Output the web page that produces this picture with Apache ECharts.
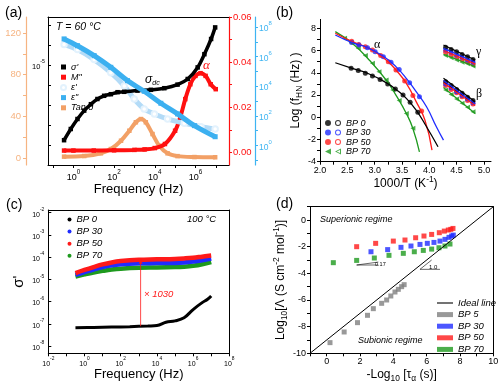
<!DOCTYPE html>
<html><head><meta charset="utf-8">
<script src="https://cdn.jsdelivr.net/npm/echarts@6/dist/echarts.min.js"></script>
<style>html,body{margin:0;padding:0;background:#fff}#c{width:500px;height:383px}</style>
</head><body><div id="c"></div>
<script>
// ================= DATA =================
// Panel (a): x = log10(frequency / Hz)
const aSigmaF = [-0.46,-0.13,0.2,0.53,0.86,1.18,1.51,1.84,2.17,2.5,3.15,3.81,4.47,5.12,5.62,6.11,6.44,6.77,6.97];
const aSigmaV = [-6.88,-6.6,-6.35,-6.14,-5.98,-5.85,-5.77,-5.73,-5.68,-5.67,-5.64,-5.62,-5.58,-5.49,-5.35,-5.06,-4.73,-4.35,-4.06]; // log10 sigma'
const aMF = [-0.46,0,1,2,3,3.5,4,4.5,5,5.25,5.5,5.75,6,6.25,6.5,6.75,7];
const aMV = [0.0008,0.0008,0.0008,0.0009,0.0011,0.0013,0.0019,0.0037,0.0096,0.0155,0.0236,0.0302,0.0339,0.0351,0.0339,0.0302,0.028];
const aEps1F = [-0.46,0.2,1.02,1.84,2.5,2.99,3.48,3.98,4.63,5.45,6.27,6.97];
const aEps1V = [6.82,6.48,5.8,4.92,4.02,3.14,2.47,2.13,1.79,1.5,1.27,1.11]; // log10 eps'
const aEps2F = [-0.46,0.2,1.02,1.84,2.66,3.48,4.3,5.12,5.95,6.97];
const aEps2V = [7.2,6.74,6.07,5.28,4.38,3.66,2.85,2.13,1.34,0.59]; // log10 eps''
const aTanF = [-0.46,0.53,1.35,1.84,2.34,2.75,3.07,3.32,3.56,3.89,4.22,4.63,5.12,5.95,6.97];
const aTanV = [1.3,1.9,4.5,8.6,16.6,26.2,34.3,37.4,34.3,23,11.8,4.5,1.8,0.9,0.7];

// Panel (b): x = 1000/T, y = log f_HN
const bAlphaX = {
  'BP 0':  [2.57,2.70,2.83,2.96,3.10,3.24,3.38,3.52,3.65,3.79],
  'BP 30': [2.58,2.71,2.87,3.01,3.16,3.30,3.45,3.64,3.82],
  'BP 50': [2.58,2.71,2.83,2.96,3.11,3.25,3.39,3.55,3.70,3.86],
  'BP 70': [2.45,2.57,2.70,2.83,2.96,3.08,3.21,3.33,3.45,3.58,3.70]
};
const bAlphaY = {
  'BP 0':  [4.4,4.2,3.95,3.7,3.4,3.0,2.55,2.0,1.35,0.45],
  'BP 30': [6.73,6.5,6.25,5.9,5.45,4.95,4.3,3.1,1.85],
  'BP 50': [6.83,6.55,6.35,6.05,5.55,5.0,4.25,3.25,1.95,0.55],
  'BP 70': [7.1,6.7,6.2,5.55,4.85,4.1,3.35,2.45,1.5,0.34,-1.0]
};
const bFitX = {
  'BP 0':  [2.28,2.59,2.90,3.21,3.39,3.58,3.76,3.95,4.16],
  'BP 30': [2.28,2.59,2.90,3.21,3.39,3.58,3.76,3.95,4.13,4.26],
  'BP 50': [2.28,2.59,2.90,3.21,3.39,3.58,3.76,3.92,4.05],
  'BP 70': [2.28,2.59,2.90,3.21,3.39,3.58,3.70,3.82]
};
const bFitY = {
  'BP 0':  [4.9,4.4,3.89,3.11,2.5,1.7,0.64,-0.86,-2.66],
  'BP 30': [7.4,6.71,6.2,5.3,4.55,3.5,2.3,0.94,-0.86,-2.06],
  'BP 50': [7.55,6.8,6.2,5.15,4.25,3.05,1.4,-0.25,-2.96],
  'BP 70': [7.7,6.65,5.15,3.35,1.99,0.34,-1.01,-3.11]
};
const bSecX = [4.3,4.4,4.5,4.6,4.7,4.8];
const bSecLineX = [4.26,4.84];
const bGammaY = {
  'BP 0':  [6.3,6.1,5.9,5.65,5.45,5.2], 'BP 30': [6.05,5.85,5.6,5.4,5.15,4.95],
  'BP 50': [5.85,5.65,5.45,5.2,5.0,4.8], 'BP 70': [5.55,5.35,5.15,4.95,4.8,4.6]
};
const bGammaLineY = { 'BP 0':[6.5,5.15], 'BP 30':[6.2,4.94], 'BP 50':[6.0,4.8], 'BP 70':[5.66,4.55] };
const bBetaY = {
  'BP 0':  [3.2,2.85,2.5,2.15,1.8,1.5], 'BP 30': [3.0,2.65,2.3,1.95,1.65,1.3],
  'BP 50': [2.85,2.5,2.2,1.85,1.5,1.2], 'BP 70': [2.45,2.05,1.65,1.25,0.9,0.5]
};
const bBetaLineY = { 'BP 0':[3.5,1.4], 'BP 30':[3.3,1.2], 'BP 50':[3.1,1.05], 'BP 70':[2.68,0.34] };

// Panel (c): x = log10(frequency / Hz), y = log10 sigma'
const cBP0F = [-0.5,0.5,1.5,2.5,3.5,4,4.5,5,5.5,6,6.5,6.8,7];
const cBP0V = [-7.18,-7.17,-7.15,-7.13,-7.1,-7.08,-6.93,-6.87,-6.73,-6.36,-6.05,-5.9,-5.75];
const cF = [-0.5,0,0.5,1,1.5,2,3,4,5,5.5,6,6.5,7];
const cBP30V = [-4.8,-4.68,-4.56,-4.45,-4.37,-4.32,-4.28,-4.27,-4.26,-4.24,-4.2,-4.14,-4.06];
const cBP50V = [-4.72,-4.58,-4.45,-4.33,-4.24,-4.18,-4.12,-4.1,-4.08,-4.06,-4.03,-3.98,-3.93];
const cBP70V = [-4.88,-4.78,-4.69,-4.62,-4.56,-4.52,-4.48,-4.47,-4.45,-4.43,-4.39,-4.32,-4.22];
const cRatioF = 3.1, cRatioLow = -7.11, cRatioHigh = -4.1;

// Panel (d): x = -log10 tau_alpha, y = log10 Lambda
const dIdeal = [[-1,-10],[10,1]];
const dBP5X = [0.2,1.05,1.85,2.45,2.8,3.3,3.6,3.85,4.1,4.3,4.5,4.65];
const dBP5Y = [-9.2,-8.4,-7.7,-7.15,-6.65,-6.25,-6.0,-5.7,-5.4,-5.2,-5.0,-4.85];
const dBP30X = [2.66,3.66,4.46,5.06,5.6,6.04,6.44,6.8,7.1,7.34,7.5,7.6];
const dBP30Y = [-2.38,-2.22,-2.05,-1.95,-1.83,-1.75,-1.68,-1.58,-1.45,-1.3,-1.2,-1.13];
const dBP50X = [1.8,2.94,4.0,4.7,5.34,5.84,6.3,6.76,7.06,7.3,7.45,7.58];
const dBP50Y = [-2.0,-1.75,-1.58,-1.5,-1.33,-1.2,-1.08,-0.95,-0.83,-0.75,-0.7,-0.63];
const dBP70X = [0.4,1.8,2.86,3.74,4.6,5.26,5.8,6.3,6.74,7.1,7.4];
const dBP70Y = [-3.2,-3.03,-2.85,-2.65,-2.5,-2.38,-2.28,-2.18,-2.08,-1.95,-1.8];
const dSlope017 = [[3.1,-3.375],[1.8,-3.375],[3.1,-3.155]];
const dSlope10 = [[6.8,-3.7],[5.6,-3.7],[6.3,-3.0]];

// ================= HELPERS =================
const FONT = '"Liberation Sans", Arial, sans-serif';
const zip = (xs, ys) => xs.map((x, i) => [x, ys[i]]);
const range = (a, b, s) => { const r = []; for (let v = a; v <= b + 1e-9; v += s) r.push(+v.toFixed(6)); return r; };
const sup = n => (n < 0 ? '-' + (-n) : '' + n);
const pow10 = v => '{b|10}{s|' + sup(Math.round(v)) + '}';
const powRich = (c, fs) => ({ b: { fontSize: fs, color: c, lineHeight: fs + 4, verticalAlign: 'bottom', fontFamily: FONT },
                               s: { fontSize: fs * 0.7, color: c, lineHeight: fs * 0.8, verticalAlign: 'top', fontFamily: FONT } });
const nameRich = fs => ({
  n: { fontSize: fs, fontFamily: FONT, lineHeight: fs + 4, verticalAlign: 'middle' },
  sub: { fontSize: fs * 0.7, fontFamily: FONT, lineHeight: fs + 4, verticalAlign: 'bottom' },
  sup: { fontSize: fs * 0.7, fontFamily: FONT, lineHeight: fs * 0.9, verticalAlign: 'top' }
});
function lineAxis(gridIndex, position, extra) {
  return Object.assign({ gridIndex, type: 'value', position, min: 0, max: 1,
    axisLine: { show: true, onZero: false, lineStyle: { color: '#000', width: 1 } },
    axisTick: { show: false }, axisLabel: { show: false }, splitLine: { show: false } }, extra || {});
}
const AL = (color, width) => ({ show: true, onZero: false, lineStyle: { color, width: width || 1 } });

const BLACK = '#000000', BLUE = '#1f2cff', RED = '#ff1a1a', GREEN = '#1e9a1e', GRAY = '#7f7f7f';
const ORANGE = '#f2a066', ORANGE_AX = '#f6b482', EPS2 = '#3cb0f0', EPS1 = '#7cc3f0', EPS_AX = '#3db4f2', MRED = '#ff1010';
const BPcolor = { 'BP 0': BLACK, 'BP 30': BLUE, 'BP 50': RED, 'BP 70': GREEN };

// ================= AXES =================
const xAxis = [
  { gridIndex: 0, type: 'value', position: 'bottom', min: -1.25, max: 7.65, axisLine: AL('#000'),
    axisTick: { show: true, length: 3, customValues: range(-1, 7, 1), lineStyle: { color: '#000' } },
    axisLabel: { customValues: [0, 2, 4, 6], formatter: pow10, rich: powRich('#000', 9), margin: 4 },
    splitLine: { show: false },
    name: 'Frequency (Hz)', nameLocation: 'middle', nameGap: 16,
    nameTextStyle: { fontSize: 13, color: '#000', fontFamily: FONT } },
  lineAxis(0, 'top'),
  { gridIndex: 1, type: 'value', position: 'bottom', min: 2.0, max: 5.13, axisLine: AL('#000'),
    axisTick: { show: true, length: 3, customValues: range(2, 5, 0.25), lineStyle: { color: '#000' } },
    axisLabel: { customValues: range(2, 5, 0.5), formatter: v => v.toFixed(1), fontSize: 9, color: '#000', fontFamily: FONT, margin: 4 },
    splitLine: { show: false },
    name: '{n|1000/T (K}{sup|-1}{n|)}', nameLocation: 'middle', nameGap: 14,
    nameTextStyle: { fontSize: 12, color: '#000', fontFamily: FONT, rich: nameRich(12) } },
  { gridIndex: 2, type: 'value', position: 'bottom', min: -2, max: 8, axisLine: AL('#000'),
    axisTick: { show: true, length: 3, customValues: range(-2, 8, 1), lineStyle: { color: '#000' } },
    axisLabel: { customValues: range(-2, 8, 2), formatter: pow10, rich: powRich('#000', 7), margin: 3 },
    splitLine: { show: false },
    name: 'Frequency (Hz)', nameLocation: 'middle', nameGap: 13,
    nameTextStyle: { fontSize: 13, color: '#000', fontFamily: FONT } },
  lineAxis(2, 'top'),
  { gridIndex: 3, type: 'value', position: 'bottom', min: -1, max: 10, axisLine: AL('#000'),
    axisTick: { show: true, length: 3, customValues: range(-1, 10, 1), lineStyle: { color: '#000' } },
    axisLabel: { customValues: range(0, 10, 2), fontSize: 9, color: '#000', fontFamily: FONT, margin: 4 },
    splitLine: { show: false },
    name: '{n|-Log}{sub|10}{n| [τ}{sub|α}{n| (s)]}', nameLocation: 'middle', nameGap: 13,
    nameTextStyle: { fontSize: 12, color: '#000', fontFamily: FONT, rich: nameRich(12) } },
  lineAxis(3, 'top')
];

const yAxis = [
  { gridIndex: 0, type: 'value', position: 'left', min: -7.5, max: -3.8, axisLine: AL('#000'),
    axisTick: { show: true, inside: true, length: 3, customValues: range(-7, -4, 0.5), lineStyle: { color: '#000' } },
    axisLabel: { customValues: [-5], formatter: pow10, rich: powRich('#000', 7.5), margin: 3 },
    splitLine: { show: false } },
  { gridIndex: 0, type: 'value', position: 'right', min: -0.0056, max: 0.06, axisLine: AL(MRED, 1.2),
    axisTick: { show: true, length: 3, customValues: range(0, 0.06, 0.01), lineStyle: { color: MRED } },
    axisLabel: { customValues: [0, 0.02, 0.04, 0.06], formatter: v => v.toFixed(2), fontSize: 9.5, color: MRED, fontFamily: FONT, margin: 4 },
    splitLine: { show: false } },
  { gridIndex: 0, type: 'value', position: 'right', offset: 26, min: -1.32, max: 8.68, axisLine: AL(EPS_AX, 1.2),
    axisTick: { show: true, length: 3, customValues: range(-1, 8, 1), lineStyle: { color: EPS_AX } },
    axisLabel: { customValues: [0, 2, 4, 6, 8], formatter: pow10, rich: powRich(EPS_AX, 8.5), margin: 4 },
    splitLine: { show: false } },
  { gridIndex: 0, type: 'value', position: 'left', offset: 22, min: -6.72, max: 135.4, axisLine: AL(ORANGE_AX, 1.2),
    axisTick: { show: true, length: 3, customValues: range(0, 120, 20), lineStyle: { color: ORANGE_AX } },
    axisLabel: { customValues: [0, 40, 80, 120], fontSize: 9.5, color: ORANGE_AX, fontFamily: FONT, margin: 5 },
    splitLine: { show: false } },
  { gridIndex: 1, type: 'value', position: 'left', min: -4, max: 8.8, axisLine: AL('#000'),
    axisTick: { show: true, length: 3, customValues: range(-4, 8, 1), lineStyle: { color: '#000' } },
    axisLabel: { customValues: range(-4, 8, 2), fontSize: 9, color: '#000', fontFamily: FONT, margin: 4 },
    splitLine: { show: false },
    name: '{n|Log (f}{sub|HN}{n| (Hz) )}', nameLocation: 'middle', nameGap: 14,
    nameTextStyle: { fontSize: 12, color: '#000', fontFamily: FONT, rich: nameRich(12) } },
  { gridIndex: 2, type: 'value', position: 'left', min: -8.33, max: -1.88, axisLine: AL('#000'),
    axisTick: { show: true, inside: true, length: 3, customValues: range(-8, -2, 1), lineStyle: { color: '#000' } },
    axisLabel: { customValues: range(-8, -2, 1), formatter: pow10, rich: powRich('#000', 7), margin: 4 },
    splitLine: { show: false },
    name: "σ'", nameLocation: 'middle', nameGap: 22,
    nameTextStyle: { fontSize: 15, color: '#000', fontFamily: FONT } },
  lineAxis(2, 'right'),
  { gridIndex: 3, type: 'value', position: 'left', min: -10, max: 1, axisLine: AL('#000'),
    axisTick: { show: true, length: 3, customValues: range(-10, 1, 1), lineStyle: { color: '#000' } },
    axisLabel: { customValues: range(-10, 0, 2), fontSize: 9, color: '#000', fontFamily: FONT, margin: 4 },
    splitLine: { show: false },
    name: '{n|Log}{sub|10}{n|[Λ (S cm}{sup|-2}{n| mol}{sup|-1}{n|)]}', nameLocation: 'middle', nameGap: 20,
    nameTextStyle: { fontSize: 12, color: '#000', fontFamily: FONT, rich: nameRich(12) } },
  lineAxis(3, 'right')
];

// ================= SERIES =================
const series = [];
function aLine(name, xs, ys, yIdx, color, symbol, extra) {
  series.push(Object.assign({
    type: 'line', name, xAxisIndex: 0, yAxisIndex: yIdx, data: zip(xs, ys), smooth: 0.35,
    symbol, symbolSize: 4.5, showSymbol: true, lineStyle: { color, width: 4 },
    itemStyle: { color }, emphasis: { disabled: true }, animation: false
  }, extra || {}));
}
aLine('Tan δ', aTanF, aTanV, 3, ORANGE, 'rect', { z: 2 });
aLine('M"', aMF, aMV, 1, MRED, 'rect', { z: 3 });
aLine("ε'", aEps1F, aEps1V, 2, EPS1, 'emptyCircle',
  { lineStyle: { color: '#b3dbf7', width: 5 }, itemStyle: { color: '#e3f2fd', borderColor: EPS1, borderWidth: 1.2 }, symbolSize: 5.5, z: 3 });
aLine("σ'", aSigmaF, aSigmaV, 0, BLACK, 'rect', { z: 4, lineStyle: { color: BLACK, width: 3.5 } });
aLine('ε"', aEps2F, aEps2V, 2, EPS2, 'rect', { z: 5, lineStyle: { color: EPS2, width: 5 }, symbolSize: 5 });

const bSym = { 'BP 0': 'circle', 'BP 30': 'circle', 'BP 50': 'circle', 'BP 70': 'triangle' };
['BP 70', 'BP 50', 'BP 30', 'BP 0'].forEach(k => {
  const col = BPcolor[k];
  const common = { xAxisIndex: 2, yAxisIndex: 4, animation: false, emphasis: { disabled: true } };
  series.push(Object.assign({ type: 'line', name: k + '|bfit', data: zip(bFitX[k], bFitY[k]), smooth: 0.5, showSymbol: false,
    lineStyle: { color: col, width: 1.3 }, itemStyle: { color: col } }, common));
  series.push(Object.assign({ type: 'line', name: k + '|bg', data: zip(bSecLineX, bGammaLineY[k]), showSymbol: false,
    lineStyle: { color: col, width: 1.2 } }, common));
  series.push(Object.assign({ type: 'line', name: k + '|bb', data: zip(bSecLineX, bBetaLineY[k]), showSymbol: false,
    lineStyle: { color: col, width: 1.2 } }, common));
  const symRot = k === 'BP 70' ? 90 : 0;
  series.push(Object.assign({ type: 'scatter', name: k + '|b', data: zip(bAlphaX[k], bAlphaY[k]).concat(
      zip(bSecX, bGammaY[k]), zip(bSecX, bBetaY[k])),
    symbol: bSym[k], symbolSize: 5, symbolRotate: symRot, itemStyle: { color: col } }, common));
});

const cCommon = { xAxisIndex: 3, yAxisIndex: 5, animation: false, emphasis: { disabled: true }, smooth: 0.4, showSymbol: false };
series.push(Object.assign({ type: 'line', name: 'BP 70|c', data: zip(cF, cBP70V), lineStyle: { color: GREEN, width: 4.5 }, itemStyle: { color: GREEN } }, cCommon));
series.push(Object.assign({ type: 'line', name: 'BP 30|c', data: zip(cF, cBP30V), lineStyle: { color: BLUE, width: 4.5 }, itemStyle: { color: BLUE } }, cCommon));
series.push(Object.assign({ type: 'line', name: 'BP 50|c', data: zip(cF, cBP50V), lineStyle: { color: RED, width: 4.5 }, itemStyle: { color: RED } }, cCommon));
series.push(Object.assign({ type: 'line', name: 'BP 0|c', data: zip(cBP0F, cBP0V), lineStyle: { color: BLACK, width: 3 }, itemStyle: { color: BLACK } }, cCommon));
series.push({ type: 'line', name: 'ratio', xAxisIndex: 3, yAxisIndex: 5, animation: false, emphasis: { disabled: true },
  data: [[cRatioF, cRatioLow], [cRatioF, cRatioHigh]], showSymbol: false,
  lineStyle: { color: RED, width: 0.8 }, itemStyle: { color: RED }, z: 5 });
series.push({ type: 'scatter', name: 'ratioHead', xAxisIndex: 3, yAxisIndex: 5, animation: false, emphasis: { disabled: true },
  data: [[cRatioF, cRatioHigh]], symbol: 'triangle', symbolSize: [4, 5], symbolOffset: [0, 2],
  itemStyle: { color: RED }, z: 6 });

const dCommon = { xAxisIndex: 5, yAxisIndex: 7, animation: false, emphasis: { disabled: true } };
series.push(Object.assign({ type: 'line', name: 'Ideal line|d', data: dIdeal, showSymbol: false, lineStyle: { color: '#000', width: 1 }, itemStyle: { color: '#000' } }, dCommon));
series.push(Object.assign({ type: 'line', name: 's1', data: dSlope017, showSymbol: false, lineStyle: { color: '#000', width: 0.6 } }, dCommon));
series.push(Object.assign({ type: 'line', name: 's2', data: dSlope10, showSymbol: false, lineStyle: { color: '#000', width: 0.6 } }, dCommon));
[['BP 5|d', dBP5X, dBP5Y, GRAY], ['BP 30|d', dBP30X, dBP30Y, BLUE], ['BP 50|d', dBP50X, dBP50Y, RED], ['BP 70|d', dBP70X, dBP70Y, GREEN]]
  .forEach(([n, xs, ys, c]) => series.push(Object.assign({ type: 'scatter', name: n, data: zip(xs, ys), symbol: 'rect', symbolSize: 5, itemStyle: { color: c } }, dCommon)));

// ================= LEGENDS =================
const legText = { fontSize: 9, fontStyle: 'italic', color: '#000', fontFamily: FONT, lineHeight: 9 };
const ringPath = 'M0,3A3,3,0,1,1,6,3A3,3,0,1,1,0,3Z M10,3A3,3,0,1,1,16,3A3,3,0,1,1,10,3Z M11,3A2,2,0,1,0,15,3A2,2,0,1,0,11,3Z';
const triPath = 'M0,3L6,0L6,6Z M10,3L16,0L16,6Z M11.8,3L15,4.6L15,1.4Z';
const legends = [
  { left: 55, top: 57.5, orient: 'vertical', itemWidth: 5, itemHeight: 5, itemGap: 1.2, selectedMode: false,
    textStyle: Object.assign({}, legText, { fontSize: 9 }),
    data: [{ name: "σ'", icon: 'rect' }, { name: 'M"', icon: 'rect' }, { name: "ε'", icon: 'emptyCircle' },
           { name: 'ε"', icon: 'rect' }, { name: 'Tan δ', icon: 'rect' }] },
  { left: 320, top: 113.5, orient: 'vertical', itemWidth: 16, itemHeight: 6, itemGap: 0.5, selectedMode: false,
    textStyle: legText, formatter: n => n.split('|')[0],
    data: ['BP 0', 'BP 30', 'BP 50', 'BP 70'].map(k => ({ name: k + '|b', icon: 'path://' + (k === 'BP 70' ? triPath : ringPath) })) },
  { left: 62.5, top: 209.5, orient: 'vertical', itemWidth: 4, itemHeight: 4, itemGap: 2.1, selectedMode: false,
    textStyle: Object.assign({}, legText, { fontSize: 9.5 }), formatter: n => n.split('|')[0],
    data: ['BP 0|c', 'BP 30|c', 'BP 50|c', 'BP 70|c'].map(n => ({ name: n, icon: 'circle' })) },
  { left: 432, top: 293, orient: 'vertical', itemWidth: 16, itemHeight: 5, itemGap: 1.6, selectedMode: false,
    textStyle: Object.assign({}, legText, { fontSize: 9.5 }), formatter: n => n.split('|')[0],
    data: [{ name: 'Ideal line|d', icon: 'path://M0,0L16,0L16,1.1L0,1.1Z' }, { name: 'BP 5|d', icon: 'rect' },
           { name: 'BP 30|d', icon: 'rect' }, { name: 'BP 50|d', icon: 'rect' }, { name: 'BP 70|d', icon: 'rect' }] }
];

// ================= TEXT ANNOTATIONS =================
const T = (left, top, text, style) => ({ type: 'text', left, top, silent: true,
  style: Object.assign({ text, fontSize: 12, fill: '#000', fontFamily: FONT }, style || {}) });
const graphic = [
  T(5, 6, '(a)', { fontSize: 14 }), T(276, 6, '(b)', { fontSize: 14 }),
  T(6, 198, '(c)', { fontSize: 14 }), T(276, 197, '(d)', { fontSize: 14 }),
  T(56, 22, 'T = 60 °C', { fontSize: 10.5, fontStyle: 'italic' }),
  { type: 'text', left: 145, top: 74, silent: true, style: { text: '{a|σ}{b|dc}', rich: {
      a: { fontSize: 12, fontStyle: 'italic', fontFamily: FONT, lineHeight: 14, verticalAlign: 'middle' },
      b: { fontSize: 7, fontStyle: 'italic', fontFamily: FONT, lineHeight: 14, verticalAlign: 'bottom' } } } },
  T(203, 59, 'α', { fontSize: 13, fontStyle: 'italic', fill: MRED, fontFamily: '"Liberation Serif", serif' }),
  T(374, 39, 'α', { fontSize: 12, fontFamily: '"Liberation Serif", serif' }),
  T(476, 46, 'γ', { fontSize: 12, fontFamily: '"Liberation Serif", serif' }),
  T(476, 88, 'β', { fontSize: 12, fontFamily: '"Liberation Serif", serif' }),
  T(187, 214, '100 °C', { fontSize: 9.5, fontStyle: 'italic' }),
  T(144, 289, '× 1030', { fontSize: 9.5, fontStyle: 'italic', fill: RED }),
  T(320, 215, 'Superionic regime', { fontSize: 9, fontStyle: 'italic' }),
  T(358, 336, 'Subionic regime', { fontSize: 9, fontStyle: 'italic' }),
  T(375, 261, '0.17', { fontSize: 5.5 }),
  T(429, 264, '1.0', { fontSize: 6 })
];

const chart = echarts.init(document.getElementById('c'), null, { renderer: 'canvas' });
chart.setOption({
  animation: false,
  backgroundColor: '#fff',
  textStyle: { fontFamily: FONT },
  grid: [
    { left: 48, top: 17, width: 181, height: 148, outerBoundsMode: 'none', containLabel: false },
    { left: 320, top: 19.4, width: 171, height: 142.3, outerBoundsMode: 'none', containLabel: false },
    { left: 48.3, top: 210, width: 181, height: 143.3, outerBoundsMode: 'none', containLabel: false },
    { left: 310, top: 206.7, width: 183.3, height: 146.6, outerBoundsMode: 'none', containLabel: false }
  ],
  xAxis, yAxis, series, legend: legends, graphic
});
</script></body></html>
